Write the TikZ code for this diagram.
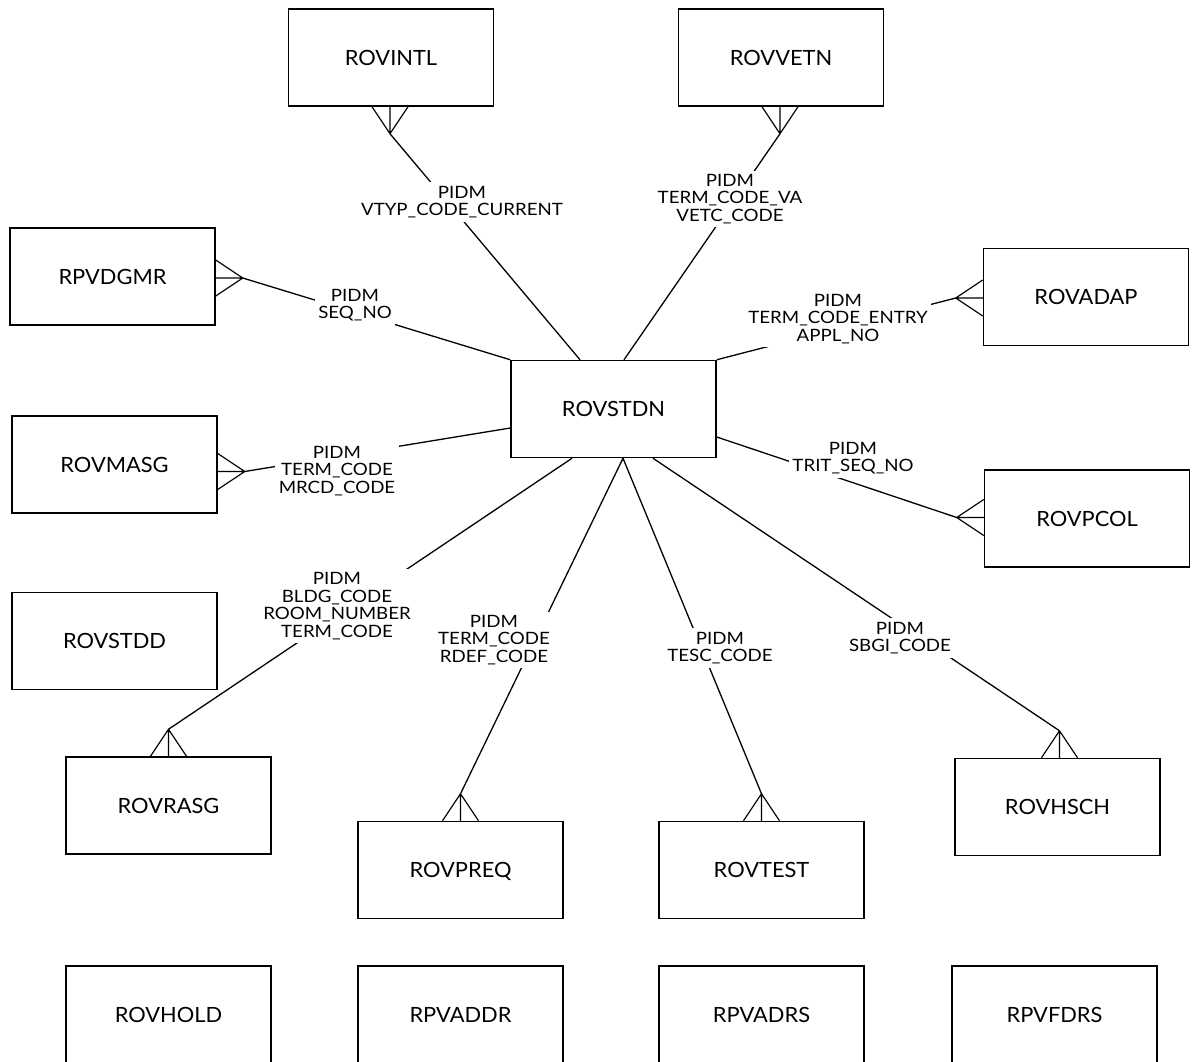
\documentclass[tikz,border=0pt]{standalone}
\usepackage{fontspec}
\setmainfont{Lato}
\newfontfamily\entityfont[FakeStretch=1.04]{Lato}
\newfontfamily\keyfont[FakeStretch=1.1]{Lato}
\usetikzlibrary{calc}

% crow's feet: the apex is given, the three prongs run to the box edge
\newcommand{\crowS}[1]{\draw[foot] (#1) -- ++(-18,-27) (#1) -- ++(0,-27) (#1) -- ++(18,-27);}
\newcommand{\crowN}[1]{\draw[foot] (#1) -- ++(-18,27) (#1) -- ++(0,27) (#1) -- ++(18,27);}
\newcommand{\crowE}[1]{\draw[foot] (#1) -- ++(-27,-18) (#1) -- ++(-27,0) (#1) -- ++(-27,18);}
\newcommand{\crowW}[1]{\draw[foot] (#1) -- ++(27,-18) (#1) -- ++(27,0) (#1) -- ++(27,18);}

\begin{document}
\begin{tikzpicture}[x=1pt,y=-1pt,
  entity/.style={draw, line width=1.5pt, minimum width=205pt, minimum height=97pt,
    inner sep=0pt, text height=15pt, text depth=0pt,
    font=\entityfont\fontsize{21}{24}\selectfont},
  link/.style={line width=1.3pt},
  foot/.style={line width=1.2pt},
  keys/.style={fill=white, inner sep=3.5pt, align=center,
    font=\keyfont\fontsize{17}{17.5}\selectfont}
]
\useasboundingbox (0,0) rectangle (1193,1061);

% tables
\node[entity] (intl) at (391,57.5)    {ROVINTL};
\node[entity] (vetn) at (781,57.5)    {ROVVETN};
\node[entity] (dgmr) at (112.5,276.5) {RPVDGMR};
\node[entity] (adap) at (1086,297)    {ROVADAP};
\node[entity] (stdn) at (613.5,409)   {ROVSTDN};
\node[entity] (masg) at (114.5,464.5) {ROVMASG};
\node[entity] (pcol) at (1087,518.5)  {ROVPCOL};
\node[entity] (stdd) at (114.5,641)   {ROVSTDD};
\node[entity] (rasg) at (168.5,805.5) {ROVRASG};
\node[entity] (preq) at (460.5,870)   {ROVPREQ};
\node[entity] (test) at (761.5,870)   {ROVTEST};
\node[entity] (hsch) at (1057.5,807)  {ROVHSCH};
\node[entity] (hold) at (168.5,1014.5) {ROVHOLD};
\node[entity] (addr) at (460.5,1014.5) {RPVADDR};
\node[entity] (adrs) at (761.5,1014.5) {RPVADRS};
\node[entity] (fdrs) at (1054.5,1014.5) {RPVFDRS};

% crow's foot apexes on the child tables
\coordinate (aIntl) at ($(intl.south)+(-1,27)$);
\coordinate (aVetn) at ($(vetn.south)+(-1,27)$);
\coordinate (aDgmr) at ($(dgmr.east)+(27,1.5)$);
\coordinate (aAdap) at ($(adap.west)+(-27,1)$);
\coordinate (aMasg) at ($(masg.east)+(27,7)$);
\coordinate (aPcol) at ($(pcol.west)+(-27,-1)$);
\coordinate (aRasg) at ($(rasg.north)+(0,-27)$);
\coordinate (aPreq) at ($(preq.north)+(0,-27)$);
\coordinate (aTest) at ($(test.north)+(0,-27)$);
\coordinate (aHsch) at ($(hsch.north)+(2,-27)$);

% attachment points on ROVSTDN
\coordinate (sIntl) at ($(stdn.north)+(-33.5,0)$);
\coordinate (sVetn) at ($(stdn.north)+(10.5,0)$);
\coordinate (sDgmr) at (stdn.north west);
\coordinate (sAdap) at (stdn.north east);
\coordinate (sMasg) at ($(stdn.west)+(0,19)$);
\coordinate (sPcol) at ($(stdn.east)+(0,28)$);
\coordinate (sRasg) at ($(stdn.south)+(-41.5,0)$);
\coordinate (sPreq) at ($(stdn.south)+(9.5,0)$);
\coordinate (sTest) at ($(stdn.south)+(9.5,0)$);
\coordinate (sHsch) at ($(stdn.south)+(39.5,0)$);

\crowS{aIntl} \crowS{aVetn}
\crowE{aDgmr} \crowE{aMasg}
\crowW{aAdap} \crowW{aPcol}
\crowN{aRasg} \crowN{aPreq} \crowN{aTest} \crowN{aHsch}

% relationships
\draw[link] (aIntl) -- (sIntl);
\draw[link] (aVetn) -- (sVetn);
\draw[link] (aDgmr) -- (sDgmr);
\draw[link] (aAdap) -- (sAdap);
\draw[link] (aMasg) -- (sMasg);
\draw[link] (aPcol) -- (sPcol);
\draw[link] (aRasg) -- (sRasg);
\draw[link] (aPreq) -- (sPreq);
\draw[link] (aTest) -- (sTest);
\draw[link] (aHsch) -- (sHsch);

% join keys
\node[keys] (kIntl) at (462,202) {PIDM\\VTYP\_CODE\_CURRENT};
\node[keys] (kVetn) at (730,199) {PIDM\\TERM\_CODE\_VA\\VETC\_CODE};
\node[keys] (kDgmr) at (355,305) {PIDM\\SEQ\_NO};
\node[keys] (kAdap) at (838,319) {PIDM\\TERM\_CODE\_ENTRY\\APPL\_NO};
\node[keys] (kMasg) at (337,471) {PIDM\\TERM\_CODE\\MRCD\_CODE};
\node[keys] (kPcol) at (853,458) {PIDM\\TRIT\_SEQ\_NO};
\node[keys] (kRasg) at (337,606) {PIDM\\BLDG\_CODE\\ROOM\_NUMBER\\TERM\_CODE};
\node[keys] (kPreq) at (494,640) {PIDM\\TERM\_CODE\\RDEF\_CODE};
\node[keys] (kTest) at (720,648) {PIDM\\TESC\_CODE};
\node[keys] (kHsch) at (900,638) {PIDM\\SBGI\_CODE};
\end{tikzpicture}
\end{document}
